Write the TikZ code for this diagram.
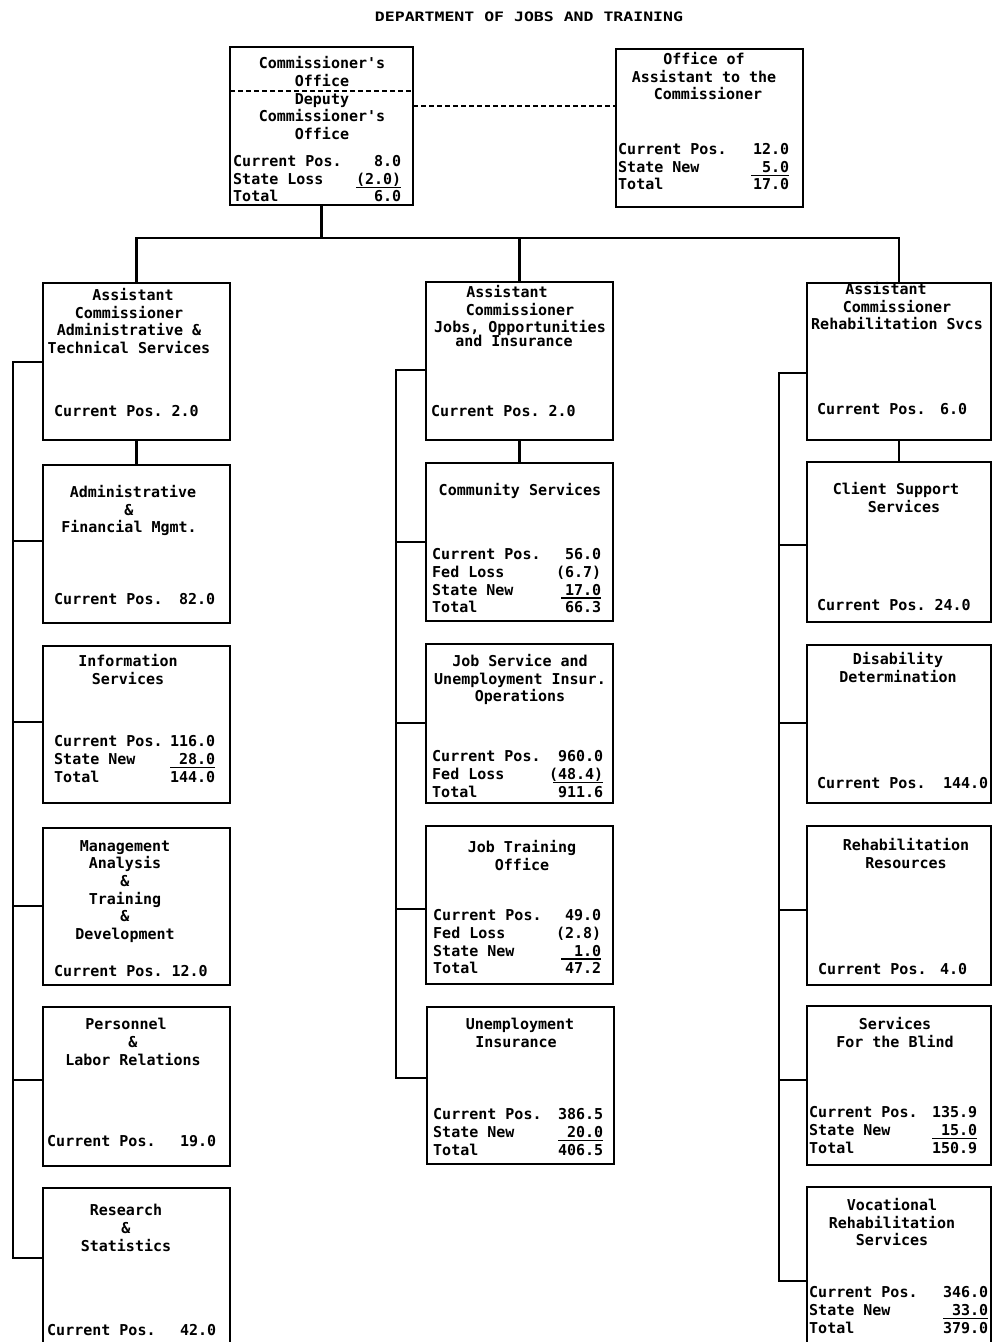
\documentclass[tikz,border=0pt]{standalone}
\usepackage{fontspec}
\usepackage{graphicx}
\setmonofont{DejaVu Sans Mono}
\newcommand\sr[3]{\strut\makebox[#1pt][l]{#2}\llap{#3}}
\newcommand\uln[2]{\makebox[#1pt][r]{#2}\llap{\rule[-3.8pt]{#1pt}{1.5pt}}}
\newcommand\lsft[2]{#2\hspace*{#1pt}}
\newcommand\rsft[2]{\hspace*{#1pt}#2}
\begin{document}
\begin{tikzpicture}[x=1pt,y=-1pt,
  box/.style={draw, line width=2.2pt, inner sep=0pt, outer sep=0pt, anchor=north west},
  ttl/.style={font=\ttfamily\bfseries\fontsize{15}{17.7}\selectfont, align=center, inner sep=0pt, anchor=north, execute at begin node=\strut},
  st/.style={font=\ttfamily\bfseries\fontsize{15}{17.7}\selectfont, align=left, inner sep=0pt, anchor=north west},
  ln/.style={line width=2.2pt},
  dl/.style={line width=1.8pt, dash pattern=on 5pt off 3pt}]
\useasboundingbox (0,0) rectangle (994,1342);
\clip (0,0) rectangle (994,1342);
\fill[white] (0,0) rectangle (994,1342);

% title
\node[inner sep=0pt, font=\ttfamily\bfseries\fontsize{13}{15}\selectfont] (title) at (529,17) {\scalebox{1.27}[1]{DEPARTMENT OF JOBS AND TRAINING}};

% boxes
\node[box, minimum width=183pt, minimum height=158pt] (comm) at (230,47) {};
\node[box, minimum width=187pt, minimum height=158pt] (asst) at (616,49) {};
\node[box, minimum width=187pt, minimum height=157pt] (acAdm) at (43,283) {};
\node[box, minimum width=187pt, minimum height=158pt] (admfin) at (43,465) {};
\node[box, minimum width=187pt, minimum height=157pt] (info) at (43,646) {};
\node[box, minimum width=187pt, minimum height=157pt] (mgmt) at (43,828) {};
\node[box, minimum width=187pt, minimum height=159pt] (pers) at (43,1007) {};
\node[box, minimum width=187pt, minimum height=172pt] (research) at (43,1188) {};
\node[box, minimum width=187pt, minimum height=158pt] (acJobs) at (426,282) {};
\node[box, minimum width=187pt, minimum height=158pt] (community) at (426,463) {};
\node[box, minimum width=187pt, minimum height=159pt] (jobsvc) at (426,644) {};
\node[box, minimum width=187pt, minimum height=158pt] (jobtrain) at (426,826) {};
\node[box, minimum width=187pt, minimum height=157pt] (unemp) at (427,1007) {};
\node[box, minimum width=184pt, minimum height=157pt] (acRehab) at (807,283) {};
\node[box, minimum width=184pt, minimum height=160pt] (client) at (807,462) {};
\node[box, minimum width=184pt, minimum height=158pt] (disab) at (807,645) {};
\node[box, minimum width=184pt, minimum height=159pt] (rehabres) at (807,826) {};
\node[box, minimum width=184pt, minimum height=159pt] (blind) at (807,1006) {};
\node[box, minimum width=184pt, minimum height=172pt] (vocrehab) at (807,1187) {};

% titles
\node[ttl] (commT1) at (322,56) {Commissioner's\\Office};
\node[ttl] (commT2) at (322,93) {Deputy\\Commissioner's\\Office};
\node[ttl] (asstT) at (704,52) {Office of\\Assistant to the\\\rsft{8}{Commissioner}};
\node[ttl] (acAdmT) at (129,288) {\rsft{8}{Assistant}\\Commissioner\\Administrative \&\\Technical Services};
\node[ttl] (admfinT) at (129,485) {\rsft{8}{Administrative}\\\lsft{18}{\&}\\Financial Mgmt.};
\node[ttl] (infoT) at (128,654) {Information\\Services};
\node[ttl] (mgmtT) at (125,840) {Management\\Analysis\\\&\\Training\\\&\\Development};
\node[ttl] (persT) at (133,1018) {\lsft{14}{Personnel}\\\lsft{18}{\&}\\Labor Relations};
\node[ttl] (researchT) at (126,1204) {Research\\\&\\Statistics};
\node[ttl] (acJobsT) at (520,285) {\lsft{26}{Assistant}\\\lsft{36}{Commissioner}\\Jobs, Opportunities};
\node[ttl] (acJobsT2) at (514,334) {and Insurance};
\node[ttl] (communityT) at (520,483) {Community Services};
\node[ttl] (jobsvcT) at (520,654) {Job Service and\\Unemployment Insur.\\Operations};
\node[ttl] (jobtrainT) at (522,840) {Job Training\\Office};
\node[ttl] (unempT) at (520,1018) {Unemployment\\\lsft{8}{Insurance}};
\node[ttl] (acRehabT) at (897,282) {\lsft{22}{Assistant}\\\lsft{32}{Commissioner}\\Rehabilitation Svcs};
\node[ttl] (clientT) at (896,482) {Client Support\\\rsft{16}{Services}};
\node[ttl] (disabT) at (898,652) {Disability\\Determination};
\node[ttl] (rehabresT) at (906,838) {Rehabilitation\\Resources};
\node[ttl] (blindT) at (895,1017) {Services\\For the Blind};
\node[ttl] (vocrehabT) at (892,1198) {Vocational\\Rehabilitation\\Services};

% statistics
\node[st] (commS) at (233,154) {\sr{168}{Current Pos.}{8.0}\\\sr{168}{State Loss}{\uln{45}{(2.0)}}\\\sr{168}{Total}{6.0}};
\node[st] (asstS) at (618,142) {\sr{171}{Current Pos.}{12.0}\\\sr{171}{State New}{\uln{38}{5.0}}\\\sr{171}{Total}{17.0}};
\node[st] (acAdmS) at (54,404) {\strut Current Pos. 2.0};
\node[st] (admfinS) at (54,592) {\sr{161}{Current Pos.}{82.0}};
\node[st] (infoS) at (54,734) {\sr{161}{Current Pos.}{116.0}\\\sr{161}{State New}{\uln{45}{28.0}}\\\sr{161}{Total}{144.0}};
\node[st] (mgmtS) at (54,964) {\strut Current Pos. 12.0};
\node[st] (persS) at (47,1134) {\sr{169}{Current Pos.}{19.0}};
\node[st] (researchS) at (47,1323) {\sr{169}{Current Pos.}{42.0}};
\node[st] (acJobsS) at (431,404) {\strut Current Pos. 2.0};
\node[st] (communityS) at (432,547) {\sr{169}{Current Pos.}{56.0}\\\sr{169}{Fed Loss}{(6.7)}\\\sr{169}{State New}{\uln{40}{17.0}}\\\sr{169}{Total}{66.3}};
\node[st] (jobsvcS) at (432,749) {\sr{171}{Current Pos.}{960.0}\\\sr{171}{Fed Loss}{\uln{50}{(48.4)}}\\\sr{171}{Total}{911.6}};
\node[st] (jobtrainS) at (433,908) {\sr{168}{Current Pos.}{49.0}\\\sr{168}{Fed Loss}{(2.8)}\\\sr{168}{State New}{\uln{40}{1.0}}\\\sr{168}{Total}{47.2}};
\node[st] (unempS) at (433,1107) {\sr{170}{Current Pos.}{386.5}\\\sr{170}{State New}{\uln{45}{20.0}}\\\sr{170}{Total}{406.5}};
\node[st] (acRehabS) at (817,402) {\sr{150}{Current Pos.}{6.0}};
\node[st] (clientS) at (817,598) {\strut Current Pos. 24.0};
\node[st] (disabS) at (817,776) {\sr{171}{Current Pos.}{144.0}};
\node[st] (rehabresS) at (818,962) {\sr{149}{Current Pos.}{4.0}};
\node[st] (blindS) at (809,1105) {\sr{168}{Current Pos.}{135.9}\\\sr{168}{State New}{\uln{45}{15.0}}\\\sr{168}{Total}{150.9}};
\node[st] (vocrehabS) at (809,1285) {\sr{179}{Current Pos.}{346.0}\\\sr{179}{State New}{\uln{45}{33.0}}\\\sr{179}{Total}{379.0}};

% helper coordinates
\coordinate (cdiv) at (0,91);
\coordinate (dsh) at (0,106);
\coordinate (bus) at (0,238);
\coordinate (l1) at (13,362);
\coordinate (l2) at (13,541);
\coordinate (l3) at (13,722);
\coordinate (l4) at (13,906);
\coordinate (l5) at (13,1080);
\coordinate (l6) at (13,1258);
\coordinate (m1) at (396,370);
\coordinate (m2) at (396,542);
\coordinate (m3) at (396,723);
\coordinate (m4) at (396,909);
\coordinate (m5) at (396,1078);
\coordinate (r1) at (779,373);
\coordinate (r2) at (779,545);
\coordinate (r3) at (779,723);
\coordinate (r4) at (779,910);
\coordinate (r5) at (779,1080);
\coordinate (r6) at (779,1281);

% dashed lines
\draw[dl] (comm.west |- cdiv) -- (comm.east |- cdiv);
\draw[dl] (comm.east |- dsh) -- (asst.west |- dsh);

% top tree
\draw[ln] (comm.south) -- (comm.south |- bus);
\draw[ln] (acAdm.north) -- (acAdm.north |- bus) -- (acRehab.north |- bus) -- (acRehab.north);
\draw[ln] (acJobs.north) -- (acJobs.north |- bus);
\draw[ln] (acAdm.south) -- (admfin.north);
\draw[ln] (acJobs.south) -- (community.north);
\draw[ln] (acRehab.south) -- (client.north);

% left column bus
\draw[ln] (acAdm.west |- l1) -- (l1) -- (l6) -- (research.west |- l6);
\draw[ln] (l2) -- (admfin.west |- l2);
\draw[ln] (l3) -- (info.west |- l3);
\draw[ln] (l4) -- (mgmt.west |- l4);
\draw[ln] (l5) -- (pers.west |- l5);

% middle column bus
\draw[ln] (acJobs.west |- m1) -- (m1) -- (m5) -- (unemp.west |- m5);
\draw[ln] (m2) -- (community.west |- m2);
\draw[ln] (m3) -- (jobsvc.west |- m3);
\draw[ln] (m4) -- (jobtrain.west |- m4);

% right column bus
\draw[ln] (acRehab.west |- r1) -- (r1) -- (r6) -- (vocrehab.west |- r6);
\draw[ln] (r2) -- (client.west |- r2);
\draw[ln] (r3) -- (disab.west |- r3);
\draw[ln] (r4) -- (rehabres.west |- r4);
\draw[ln] (r5) -- (blind.west |- r5);
\end{tikzpicture}
\end{document}
